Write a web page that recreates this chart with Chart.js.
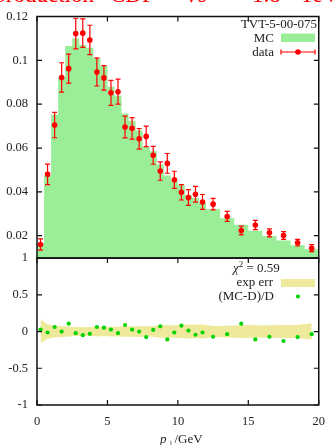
<!DOCTYPE html>
<html><head><meta charset="utf-8">
<script src="https://cdn.jsdelivr.net/npm/chart.js@4/dist/chart.umd.min.js"></script>
<style>
body{margin:0;background:#fff;}
#wrap{position:relative;width:334px;height:445px;overflow:hidden;background:#fff;}
canvas{position:absolute;left:0;top:0;}
.t{position:absolute;font-family:"Liberation Serif",serif;font-size:13px;line-height:13px;color:#222;white-space:nowrap;}
#title{position:absolute;left:0;top:0;width:334px;height:6px;overflow:hidden;}
#title span{position:absolute;top:-17px;font-family:"Liberation Serif",serif;font-size:23px;line-height:23px;color:#f00;white-space:nowrap;}
</style></head><body>
<div id="wrap">
<canvas id="c" width="334" height="445" style="width:334px;height:445px"></canvas>
<div id="title"><span style="right:240px">Z production</span><span style="left:110px">CDF</span><span style="left:185px">√<span style="position:static;text-decoration:overline">s</span></span><span style="left:228px">=</span><span style="left:252px">1.8</span><span style="left:300px">TeV</span></div>
<div class="t" style="right:17px;top:17px;">TVT-5-00-075</div>
<div class="t" style="right:60px;top:31px;">MC</div>
<div class="t" style="right:60px;top:45px;">data</div>
<div class="t" style="left:233px;top:261px;"><i>χ</i><sup style="font-size:9px;line-height:0">2</sup> = 0.59</div>
<div class="t" style="right:61px;top:275px;">exp err</div>
<div class="t" style="right:60px;top:289px;">(MC-D)/D</div>
<div class="t" style="left:160px;top:432px;"><i>p</i><sub style="font-size:9px;line-height:0">⊥</sub>/GeV</div>
</div>
<script>
// ---- data ----
const binEdges = [0,0.5,1,1.5,2,2.5,3,3.5,4,4.5,5,5.5,6,6.5,7,7.5,8,8.5,9,9.5,10,10.5,11,11.5,12,13,14,15,16,17,18,19,20];
const binCenters = [0.25,0.75,1.25,1.75,2.25,2.75,3.25,3.75,4.25,4.75,5.25,5.75,6.25,6.75,7.25,7.75,8.25,8.75,9.25,9.75,10.25,10.75,11.25,11.75,12.5,13.5,14.5,15.5,16.5,17.5,18.5,19.5];
const mcValues = [0.0165,0.0474,0.0752,0.0922,0.1065,0.1100,0.1070,0.1058,0.1010,0.0975,0.0880,0.0838,0.0758,0.0725,0.0680,0.0605,0.0585,0.0525,0.0475,0.0452,0.0430,0.0385,0.0372,0.0352,0.0322,0.0280,0.0250,0.0223,0.0199,0.0178,0.0157,0.0138];
const dataValues = [0.0160,0.0480,0.0705,0.0922,0.0962,0.1122,0.1124,0.1093,0.0947,0.0920,0.0852,0.0857,0.0696,0.0690,0.0642,0.0653,0.0567,0.0495,0.0530,0.0455,0.0398,0.0374,0.0389,0.0354,0.0344,0.0288,0.0224,0.0249,0.0213,0.0201,0.0168,0.0143];
const dataErrors = [0.0026,0.0047,0.0058,0.0067,0.0066,0.0070,0.0065,0.0067,0.0064,0.0056,0.0057,0.0057,0.0050,0.0049,0.0047,0.0047,0.0041,0.0042,0.0045,0.0039,0.0035,0.0036,0.0036,0.0034,0.0026,0.0023,0.0020,0.0021,0.0018,0.0018,0.0015,0.0016];
const ratioValues = [0.027,-0.013,0.062,0.000,0.107,-0.022,-0.049,-0.031,0.062,0.053,0.027,-0.022,0.089,0.027,0.000,-0.076,0.022,0.071,-0.107,-0.013,0.080,0.013,-0.044,-0.013,-0.071,-0.036,0.107,-0.107,-0.071,-0.129,-0.076,-0.036];
const xTicks = [0,5,10,15,20];
const yTicksMain = [0.02,0.04,0.06,0.08,0.1,0.12];
const yTicksRatio = [-1,-0.5,0,0.5,1];

const MC_GREEN = '#9aee97';
const BAND = '#efe99c';
const RATIO_GREEN = '#00d400';
const FONT = {family:'Liberation Serif', size:12.5};

const histPts = binEdges.map((e,i)=>({x:e, y: mcValues[Math.min(i, mcValues.length-1)]}));
const dataPts = binCenters.map((x,i)=>({x, y:dataValues[i]}));
const ratioPts = binCenters.map((x,i)=>({x, y:ratioValues[i]}));
const bandUp = binCenters.map((x,i)=>({x, y: dataErrors[i]/dataValues[i]}));
const bandDn = binCenters.map((x,i)=>({x, y: -dataErrors[i]/dataValues[i]}));

const fmt = v => String(+Number(v).toFixed(4));

const framePlugin = {
  id:'frame',
  afterDatasetsDraw(chart){
    const ctx = chart.ctx, sx = chart.scales.x, sy = chart.scales.yM;
    ctx.save();
    ctx.strokeStyle = '#f00'; ctx.lineWidth = 1.2;
    dataValues.forEach((v,i)=>{
      const px = sx.getPixelForValue(binCenters[i]);
      const yt = sy.getPixelForValue(v + dataErrors[i]);
      const yb = sy.getPixelForValue(v - dataErrors[i]);
      ctx.beginPath();
      ctx.moveTo(px,yt); ctx.lineTo(px,yb);
      ctx.moveTo(px-2.5,yt); ctx.lineTo(px+2.5,yt);
      ctx.moveTo(px-2.5,yb); ctx.lineTo(px+2.5,yb);
      ctx.stroke();
    });
    ctx.restore();
  },
  afterDraw(chart){
    const ctx = chart.ctx, sx = chart.scales.x, sy = chart.scales.yM, sr = chart.scales.yR;
    const L = chart.chartArea.left, R = chart.chartArea.right;
    const T = sy.top, M = sy.bottom, B = sr.bottom;
    ctx.save();
    ctx.strokeStyle = '#111'; ctx.lineWidth = 1.5;
    ctx.strokeRect(L, T, R-L, M-T);
    ctx.strokeRect(L, M, R-L, B-M);
    ctx.lineWidth = 1.2;
    ctx.beginPath();
    const tl = 5;
    yTicksMain.forEach(v=>{ const p = sy.getPixelForValue(v); ctx.moveTo(L,p); ctx.lineTo(L+tl,p); ctx.moveTo(R,p); ctx.lineTo(R-tl,p); });
    yTicksRatio.forEach(v=>{ const p = sr.getPixelForValue(v); ctx.moveTo(L,p); ctx.lineTo(L+tl,p); ctx.moveTo(R,p); ctx.lineTo(R-tl,p); });
    xTicks.forEach(v=>{ const p = sx.getPixelForValue(v);
      ctx.moveTo(p,T); ctx.lineTo(p,T+tl);
      ctx.moveTo(p,M); ctx.lineTo(p,M+tl);
      ctx.moveTo(p,B); ctx.lineTo(p,B-tl); });
    ctx.stroke();
    // legend markers
    ctx.fillStyle = MC_GREEN; ctx.fillRect(281, 33.5, 34, 8.5);
    ctx.strokeStyle = '#f00'; ctx.lineWidth = 1.2;
    ctx.beginPath(); ctx.moveTo(281,52); ctx.lineTo(315,52);
    ctx.moveTo(281,49.5); ctx.lineTo(281,54.5); ctx.moveTo(315,49.5); ctx.lineTo(315,54.5); ctx.stroke();
    ctx.fillStyle = '#f00'; ctx.beginPath(); ctx.arc(298,52,2.8,0,Math.PI*2); ctx.fill();
    ctx.fillStyle = BAND; ctx.fillRect(281, 279, 34, 8);
    ctx.fillStyle = RATIO_GREEN; ctx.beginPath(); ctx.arc(298,296.5,2.1,0,Math.PI*2); ctx.fill();
    ctx.restore();
  }
};

const axisCommon = {
  grid:{display:false, drawTicks:false}, border:{display:false},
  ticks:{padding:9, font:FONT, color:'#222', callback: fmt, autoSkip:false, maxRotation:0}
};

new Chart(document.getElementById('c'), {
  data:{ datasets:[
    {type:'scatter', data:dataPts, xAxisID:'x', yAxisID:'yM', pointRadius:2.8, pointBackgroundColor:'#f00', pointBorderWidth:0, order:1},
    {type:'scatter', data:ratioPts, xAxisID:'x', yAxisID:'yR', pointRadius:2.1, pointBackgroundColor:RATIO_GREEN, pointBorderWidth:0, order:1},
    {type:'line', data:histPts, xAxisID:'x', yAxisID:'yM', stepped:true, fill:'start', backgroundColor:MC_GREEN, borderWidth:0, borderColor:'rgba(0,0,0,0)', pointRadius:0, order:5},
    {type:'line', data:bandUp, xAxisID:'x', yAxisID:'yR', fill:'+1', backgroundColor:BAND, borderWidth:0, borderColor:'rgba(0,0,0,0)', pointRadius:0, order:5},
    {type:'line', data:bandDn, xAxisID:'x', yAxisID:'yR', fill:false, borderWidth:0, borderColor:'rgba(0,0,0,0)', pointRadius:0, order:6}
  ]},
  options:{
    responsive:false, animation:false, events:[],
    layout:{autoPadding:false, padding:{top:11, right:6, left:0, bottom:0}},
    plugins:{legend:{display:false}, tooltip:{enabled:false}},
    scales:{
      x:{type:'linear', position:'bottom', min:0, max:20, ...axisCommon,
         afterBuildTicks: s=>{ s.ticks = xTicks.map(v=>({value:v})); },
         afterFit: s=>{ s.height = 40; }},
      yR:{type:'linear', position:'left', stack:'p', stackWeight:149, min:-1, max:1, ...axisCommon,
         afterBuildTicks: s=>{ s.ticks = yTicksRatio.map(v=>({value:v})); },
         afterFit: s=>{ s.width = 37; }},
      yM:{type:'linear', position:'left', stack:'p', stackWeight:245, min:0.0098, max:0.12, ...axisCommon,
         afterBuildTicks: s=>{ s.ticks = yTicksMain.map(v=>({value:v})); },
         afterFit: s=>{ s.width = 37; }}
    }
  },
  plugins:[framePlugin]
});
</script>
</body></html>
